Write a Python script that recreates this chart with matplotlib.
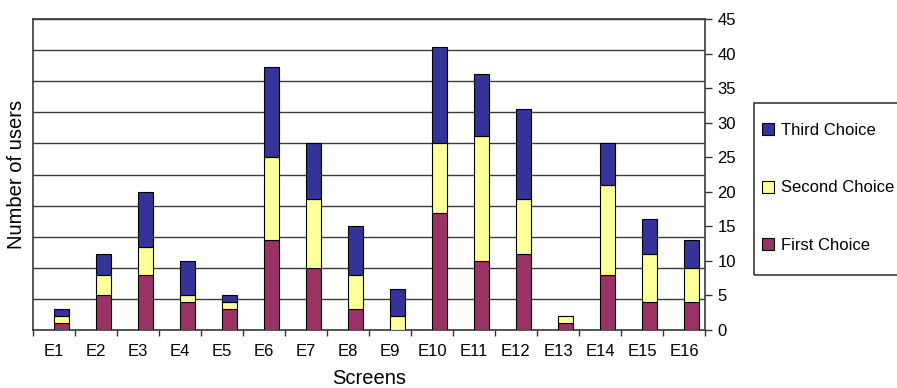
#!/usr/bin/env python3
import numpy as np
import matplotlib
matplotlib.use('Agg')
import matplotlib.pyplot as plt
from matplotlib.patches import Rectangle
from matplotlib.ticker import MultipleLocator, FixedLocator

plt.rcParams['font.family'] = ['Liberation Sans', 'DejaVu Sans']

SCREENS = ['E%d' % i for i in range(1, 17)]
FIRST = [1, 5, 8, 4, 3, 13, 9, 3, 0, 17, 10, 11, 1, 8, 4, 4]
SECOND = [1, 3, 4, 1, 1, 12, 10, 5, 2, 10, 18, 8, 1, 13, 7, 5]
THIRD = [1, 3, 8, 5, 1, 13, 8, 7, 4, 14, 9, 13, 0, 6, 5, 4]

COLORS = {'first': '#993366', 'second': '#ffff99', 'third': '#333399'}

W, H = 897, 388
fig = plt.figure(figsize=(W / 100, H / 100), dpi=100)
ax = fig.add_axes([33 / W, 58 / H, 672 / W, 311 / H])

xpos = np.arange(len(SCREENS))
bar_x = xpos + 0.17
width = 0.36
first = np.array(FIRST)
second = np.array(SECOND)
third = np.array(THIRD)

# grid lines (drawn behind the bars)
for level in np.linspace(0, 45, 11):
  ax.axhline(level, color='#3a3a3a', lw=1.0, zorder=1)

kw = dict(width=width, edgecolor='black', linewidth=0.8, zorder=3)
b1 = ax.bar(bar_x, first, color=COLORS['first'], label='First Choice', **kw)
b2 = ax.bar(bar_x, second, bottom=first, color=COLORS['second'],
            label='Second Choice', **kw)
b3 = ax.bar(bar_x, third, bottom=first + second, color=COLORS['third'],
            label='Third Choice', **kw)

ax.set_xlim(-0.5, 15.5)
ax.set_ylim(0, 45)

ax.yaxis.tick_right()
ax.yaxis.set_major_locator(MultipleLocator(5))
ax.tick_params(axis='y', which='major', direction='out', length=5, width=1.0,
               pad=4, labelsize=12, color='#333333')

ax.set_xticks(xpos)
ax.set_xticklabels(SCREENS)
ax.xaxis.set_minor_locator(FixedLocator(np.arange(-0.5, 16, 1.0)))
ax.tick_params(axis='x', which='major', length=0, pad=10, labelsize=12)
ax.tick_params(axis='x', which='minor', direction='out', length=4, width=1.0,
               color='#333333')

for side in ['left', 'bottom', 'right', 'top']:
  ax.spines[side].set_color('#3a3a3a')
  ax.spines[side].set_linewidth(1.2)

ax.set_ylabel('Number of users', fontsize=14.5)
ax.yaxis.set_label_position('left')
ax.yaxis.set_label_coords(-0.011, 0.5)

fig.text(369 / W, 1 - 378 / H, 'Screens', fontsize=14.5,
         ha='center', va='center')

# legend box runs off the right edge, as in the original
fig.patches.append(Rectangle((754 / W, 1 - 275 / H), 160 / W, 172 / H,
                             transform=fig.transFigure, fill=False,
                             edgecolor='#3a3a3a', linewidth=1.2))
leg = fig.legend(handles=[b3, b2, b1],
                 labels=['Third Choice', 'Second Choice', 'First Choice'],
                 loc='upper left', bbox_to_anchor=(762 / W, 1 - 123 / H),
                 fontsize=12, frameon=False,
                 handlelength=0.7, handleheight=0.7, handletextpad=0.45,
                 labelspacing=2.55, borderpad=0, borderaxespad=0)

plt.savefig('out.png', dpi=100)
